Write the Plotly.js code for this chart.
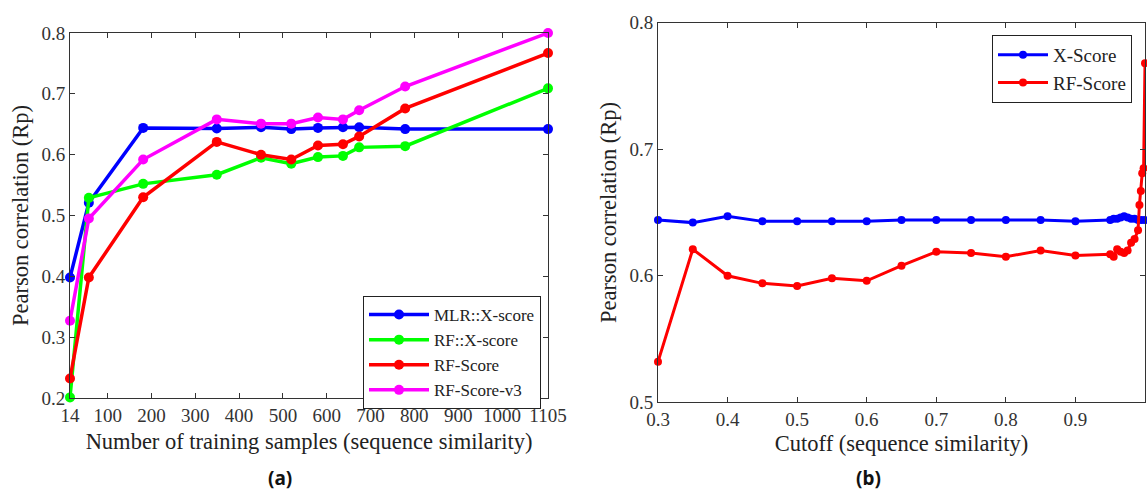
<!DOCTYPE html>
<html>
<head>
<meta charset="utf-8">
<script src="https://cdn.plot.ly/plotly-3.0.1.min.js"></script>
<style>html,body{margin:0;padding:0;background:#fff;}#chart{width:1147px;height:490px;}</style>
</head>
<body>
<div id="chart"></div>
<script>
// Panel (a): number of training samples
const samplesX = [14, 57, 181, 349, 450, 519, 580, 637, 674, 779, 1105];
const mlrXscore = [0.398, 0.521, 0.644, 0.643, 0.645, 0.642, 0.644, 0.645, 0.645, 0.642, 0.642];
const rfXscore  = [0.201, 0.529, 0.552, 0.567, 0.595, 0.585, 0.596, 0.598, 0.612, 0.614, 0.709];
const rfScore   = [0.232, 0.398, 0.530, 0.621, 0.600, 0.592, 0.615, 0.617, 0.630, 0.676, 0.767];
const rfScoreV3 = [0.327, 0.495, 0.592, 0.658, 0.651, 0.651, 0.661, 0.658, 0.673, 0.712, 0.800];
const samplesTickVals = [14, 100, 200, 300, 400, 500, 600, 700, 800, 900, 1000, 1105];
const samplesTickText = ["14", "100", "200", "300", "400", "500", "600", "700", "800", "900", "1000", "1105"];

// Panel (b): cutoff of sequence similarity
const cutoffBlue = [0.30, 0.35, 0.40, 0.45, 0.50, 0.55, 0.60, 0.65, 0.70, 0.75, 0.80, 0.85, 0.90,
                    0.95, 0.955, 0.96, 0.965, 0.97, 0.975, 0.98, 0.985, 0.99, 0.995, 1.00];
const xScoreB    = [0.644, 0.642, 0.647, 0.643, 0.643, 0.643, 0.643, 0.644, 0.644, 0.644, 0.644, 0.644, 0.643,
                    0.644, 0.645, 0.645, 0.646, 0.647, 0.646, 0.645, 0.645, 0.644, 0.644, 0.644];
const cutoffRed  = [0.30, 0.35, 0.40, 0.45, 0.50, 0.55, 0.60, 0.65, 0.70, 0.75, 0.80, 0.85, 0.90,
                    0.95, 0.955, 0.96, 0.965, 0.97, 0.975, 0.98, 0.985, 0.99, 0.992, 0.994, 0.996, 0.998, 1.00];
const rfScoreB   = [0.532, 0.621, 0.600, 0.594, 0.592, 0.598, 0.596, 0.608, 0.619, 0.618, 0.615, 0.620, 0.616,
                    0.617, 0.615, 0.621, 0.619, 0.618, 0.620, 0.626, 0.629, 0.636, 0.656, 0.667, 0.681, 0.685, 0.768];
const cutoffTickVals = [0.3, 0.4, 0.5, 0.6, 0.7, 0.8, 0.9, 1.0];
const rpTickVals2 = [0.5, 0.6, 0.7, 0.8];
const rpTickVals1 = [0.2, 0.3, 0.4, 0.5, 0.6, 0.7, 0.8];
const panelLabels = ["(a)", "(b)"];

const serif = "Liberation Serif, Times New Roman, serif";
const axisCol = "#333333";

function tr(x, y, name, color, xa, ya, leg, lw, ms) {
  return {
    x: x, y: y, name: name, type: "scatter", mode: "lines+markers",
    xaxis: xa, yaxis: ya, legend: leg, cliponaxis: false,
    line: {color: color, width: lw},
    marker: {color: color, size: ms, symbol: "circle"}
  };
}

const data = [
  tr(samplesX, mlrXscore, "MLR::X-score", "#0000ff", "x", "y", "legend", 3.5, 10),
  tr(samplesX, rfXscore, "RF::X-score", "#00ff00", "x", "y", "legend", 3.5, 10),
  tr(samplesX, rfScore, "RF-Score", "#ff0000", "x", "y", "legend", 3.5, 10),
  tr(samplesX, rfScoreV3, "RF-Score-v3", "#ff00ff", "x", "y", "legend", 3.5, 10),
  tr(cutoffBlue, xScoreB, "X-Score", "#0000ff", "x2", "y2", "legend2", 3, 8),
  tr(cutoffRed, rfScoreB, "RF-Score", "#ff0000", "x2", "y2", "legend2", 3, 8)
];

const axBase = {
  showgrid: false, zeroline: false, showline: true, mirror: "ticks",
  linecolor: axisCol, linewidth: 1, ticks: "inside", ticklen: 5, tickcolor: axisCol,
  tickfont: {family: serif, size: 19, color: "#333"}, automargin: false
};
const titleFont = {family: serif, size: 22.5, color: "#222"};
const labelFont = {family: "Noto Sans, DejaVu Sans, sans-serif", size: 19, color: "#111", weight: 700};

const layout = {
  width: 1147, height: 490,
  margin: {l: 0, r: 0, t: 0, b: 0},
  paper_bgcolor: "#fff", plot_bgcolor: "#fff",
  showlegend: true,
  xaxis: Object.assign({}, axBase, {
    domain: [70/1147, 548/1147], range: [14, 1105], anchor: "y",
    tickvals: samplesTickVals, ticktext: samplesTickText,
    title: {text: "Number of training samples (sequence similarity)", font: titleFont, standoff: 8}
  }),
  yaxis: Object.assign({}, axBase, {
    domain: [92/490, 457/490], range: [0.2, 0.8], anchor: "x",
    tickvals: rpTickVals1, tickformat: ".1f",
    title: {text: "Pearson correlation (Rp)", font: titleFont, standoff: 6}
  }),
  xaxis2: Object.assign({}, axBase, {
    domain: [658/1147, 1145/1147], range: [0.3, 1.0], anchor: "y2",
    tickvals: cutoffTickVals,
    title: {text: "Cutoff (sequence similarity)", font: titleFont, standoff: 6}
  }),
  yaxis2: Object.assign({}, axBase, {
    domain: [87.7/490, 467.3/490], range: [0.5, 0.8], anchor: "x2",
    tickvals: rpTickVals2, tickformat: ".1f",
    title: {text: "Pearson correlation (Rp)", font: titleFont, standoff: 6}
  }),
  legend: {
    x: 541/1147, y: (490-296)/490, xanchor: "right", yanchor: "top",
    bgcolor: "#fff", bordercolor: "#222", borderwidth: 1,
    font: {family: serif, size: 17, color: "#222"},
    itemwidth: 60, tracegroupgap: 0
  },
  legend2: {
    x: 1132/1147, y: (490-35)/490, xanchor: "right", yanchor: "top",
    bgcolor: "#fff", bordercolor: "#222", borderwidth: 1,
    font: {family: serif, size: 19, color: "#222"},
    itemwidth: 50, tracegroupgap: 0
  },
  annotations: [
    {text: panelLabels[0], x: 280/1147, y: (490-478)/490, xref: "paper", yref: "paper",
     xanchor: "center", yanchor: "middle", showarrow: false, font: labelFont},
    {text: panelLabels[1], x: 868/1147, y: (490-478)/490, xref: "paper", yref: "paper",
     xanchor: "center", yanchor: "middle", showarrow: false, font: labelFont}
  ]
};

Plotly.newPlot("chart", data, layout, {displayModeBar: false, staticPlot: true});
</script>
</body>
</html>
